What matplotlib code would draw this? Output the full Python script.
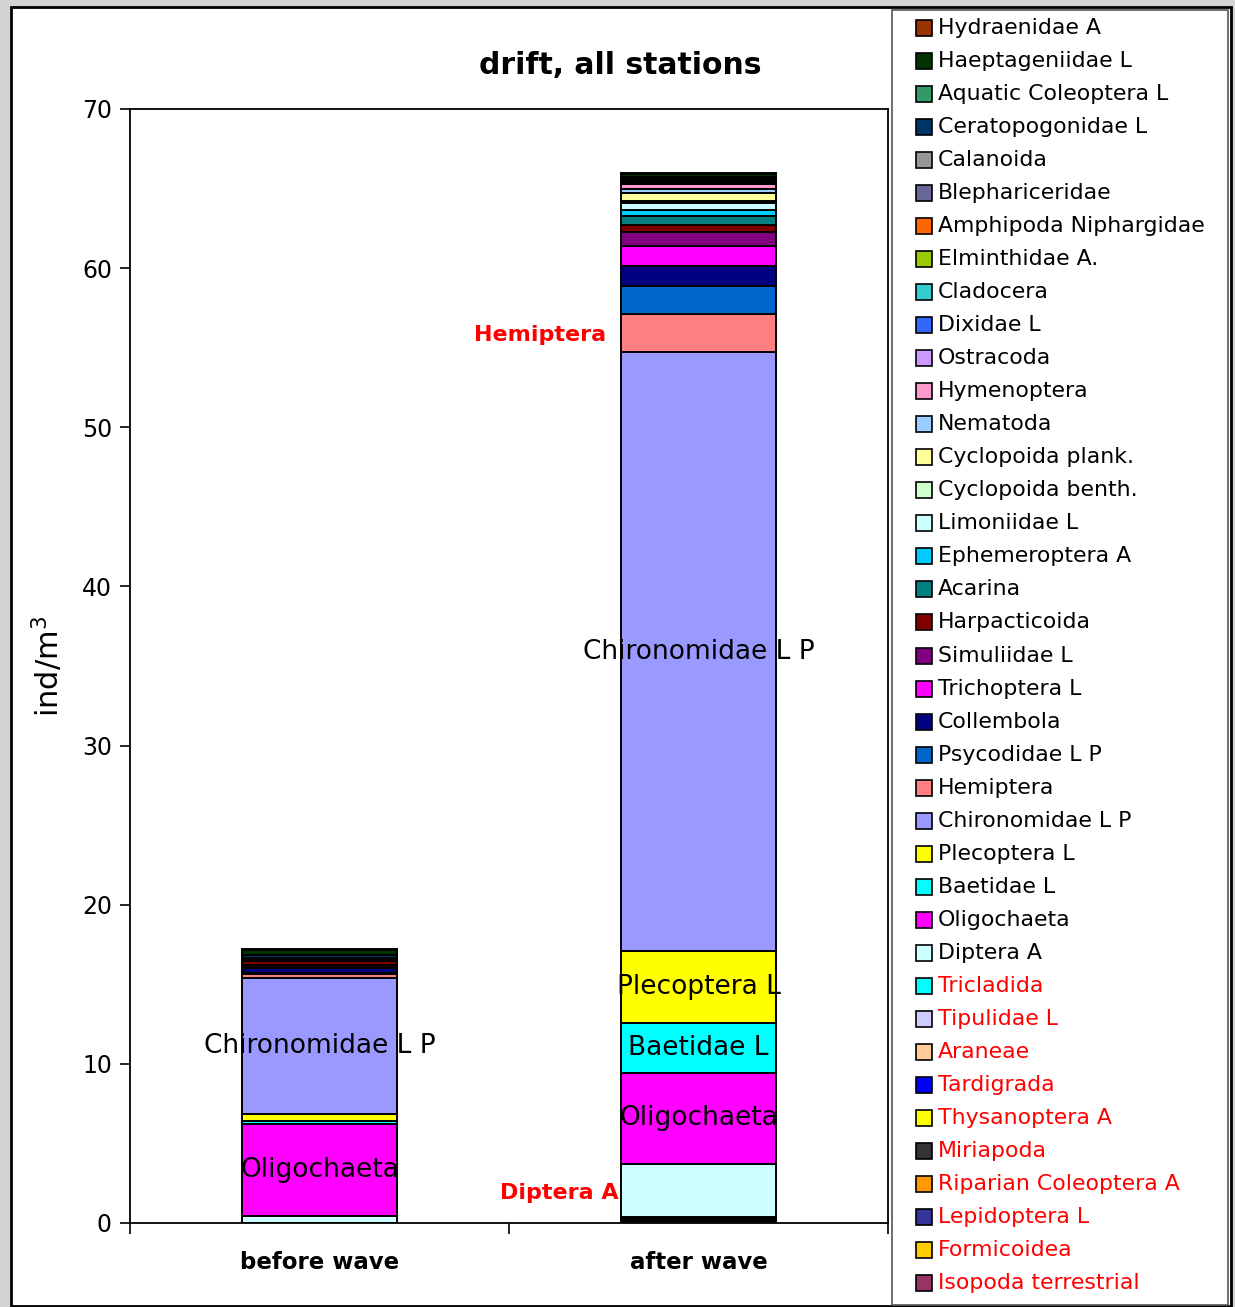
import matplotlib
matplotlib.use("Agg")
import matplotlib.pyplot as plt
from matplotlib.patches import Rectangle

plt.rcParams['font.family'] = ['DejaVu Sans']

# Sampling occasions
categories = ["before wave", "after wave"]

# Taxa in stacking order (bottom of the bar first)
taxa = [
    "Isopoda terrestrial", "Formicoidea", "Lepidoptera L", "Riparian Coleoptera A",
    "Miriapoda", "Thysanoptera A", "Tardigrada", "Araneae", "Tipulidae L",
    "Tricladida", "Diptera A", "Oligochaeta", "Baetidae L", "Plecoptera L",
    "Chironomidae L P", "Hemiptera", "Psycodidae L P", "Collembola",
    "Trichoptera L", "Simuliidae L", "Harpacticoida", "Acarina",
    "Ephemeroptera A", "Limoniidae L", "Cyclopoida benth.", "Cyclopoida plank.",
    "Nematoda", "Hymenoptera", "Ostracoda", "Dixidae L", "Cladocera",
    "Elminthidae A.", "Amphipoda Niphargidae", "Blephariceridae", "Calanoida",
    "Ceratopogonidae L", "Aquatic Coleoptera L", "Haeptageniidae L", "Hydraenidae A",
]

# Drift density, ind/m3
before_wave = [
    0, 0, 0, 0, 0, 0, 0, 0, 0, 0,
    0.45, 5.77, 0.19, 0.44, 8.54, 0.26, 0.08, 0.30, 0.08, 0.10,
    0.25, 0.02, 0.01, 0.01, 0.02, 0.02, 0.01, 0.02, 0.01, 0.01,
    0.02, 0.01, 0.01, 0.01, 0.02, 0.15, 0.02, 0.35, 0.05,
]
after_wave = [
    0.05, 0.05, 0.05, 0.05, 0.10, 0.03, 0.02, 0.02, 0.01, 0.0,
    3.33, 5.72, 3.14, 4.52, 37.64, 2.39, 1.76, 1.26, 1.25, 0.88,
    0.44, 0.57, 0.37, 0.45, 0.15, 0.47, 0.25, 0.32, 0.03, 0.02,
    0.05, 0.03, 0.03, 0.03, 0.05, 0.15, 0.05, 0.20, 0.05,
]

colors = [
    "#993366", "#FFCC00", "#333399", "#FF9900", "#333333", "#FFFF00",
    "#0000FF", "#FFCC99", "#CCCCFF", "#00FFFF", "#CCFFFF", "#FF00FF",
    "#00FFFF", "#FFFF00", "#9999FF", "#FF8080", "#0066CC", "#000080",
    "#FF00FF", "#800080", "#800000", "#008080", "#00CCFF", "#CCFFFF",
    "#CCFFCC", "#FFFF99", "#99CCFF", "#FF99CC", "#CC99FF", "#3366FF",
    "#33CCCC", "#99CC00", "#FF6600", "#666699", "#969696", "#003366",
    "#339966", "#003300", "#993300",
]

# Taxa written in red in the legend (terrestrial / rare groups)
red_taxa = taxa[:10]

# Segments that carry their name inside the bar
labelled = {0: ["Oligochaeta", "Chironomidae L P"],
            1: ["Oligochaeta", "Baetidae L", "Plecoptera L", "Chironomidae L P"]}

W, H = 1235, 1307
fig = plt.figure(figsize=(W / 100, H / 100), dpi=100)
fig.patch.set_facecolor("#d4d4d4")


def fx(px):
    return px / W


def fy(py):
    return 1 - py / H


# White chart panel with its frame
fig.patches.append(Rectangle((fx(11), fy(1306)), fx(1231) - fx(11), fy(7) - fy(1306),
                             transform=fig.transFigure, facecolor="white",
                             edgecolor="black", lw=2, zorder=-5))

ax = fig.add_axes([fx(130), fy(1223), fx(888) - fx(130), fy(109) - fy(1223)])
ax.set_facecolor("white")
ax.set_zorder(2)

xpos = [0.5, 1.5]
width = 0.41
bottoms = [0.0, 0.0]
series_vals = list(zip(before_wave, after_wave))
for name, vals, col in zip(taxa, series_vals, colors):
    ax.bar(xpos, vals, width, bottom=bottoms, color=col,
           edgecolor="black", linewidth=1.4, zorder=2)
    for i in range(2):
        if name in labelled[i]:
            ax.text(xpos[i], bottoms[i] + vals[i] / 2, name, ha="center",
                    va="center", fontsize=19, color="black", zorder=3)
    bottoms = [b + v for b, v in zip(bottoms, vals)]

# Red call-outs for the two groups of interest
hemi = taxa.index("Hemiptera")
dipt = taxa.index("Diptera A")
ax.text(1.255, sum(after_wave[:hemi]) + after_wave[hemi] * 0.45, "Hemiptera",
        ha="right", va="center", color="#FF0000", fontsize=16, fontweight="bold")
ax.text(1.29, sum(after_wave[:dipt]) + after_wave[dipt] * 0.45, "Diptera A",
        ha="right", va="center", color="#FF0000", fontsize=16, fontweight="bold")

ax.set_xlim(0, 2)
ax.set_ylim(0, 70)
ax.set_yticks(range(0, 71, 10))
ax.tick_params(axis="y", direction="out", length=7, width=1.2, labelsize=17, pad=6)
ax.set_xticks([0, 1, 2])
ax.set_xticklabels([])
ax.tick_params(axis="x", which="major", direction="out", length=8, width=1.2)
ax.set_xticks(xpos, minor=True)
ax.set_xticklabels(categories, minor=True, fontsize=16.5, fontweight="bold")
ax.tick_params(axis="x", which="minor", length=0, pad=20)
for sp in ax.spines.values():
    sp.set_linewidth(1.3)
    sp.set_color("black")

ax.set_ylabel("ind/m$^3$", fontsize=22, labelpad=12)

fig.text(fx(620), fy(66), "drift, all stations", ha="center", va="center",
         fontsize=21.5, fontweight="bold")

# Legend panel (last series listed first, as in the stacked bar)
fig.patches.append(Rectangle((fx(892), fy(1305)), fx(1228) - fx(892), fy(10) - fy(1305),
                             transform=fig.transFigure, facecolor="white",
                             edgecolor="#555555", lw=1.2, zorder=1))
row0, step = 28, (1283 - 28) / (len(taxa) - 1)
for k, idx in enumerate(range(len(taxa) - 1, -1, -1)):
    yc = row0 + k * step
    fig.patches.append(Rectangle((fx(916), fy(yc + 8)), fx(932) - fx(916), fy(yc - 8) - fy(yc + 8),
                                 transform=fig.transFigure, facecolor=colors[idx],
                                 edgecolor="black", lw=1.2, zorder=2))
    fig.text(fx(938), fy(yc), taxa[idx], ha="left", va="center", fontsize=15.8,
             color="#FF0000" if taxa[idx] in red_taxa else "black", zorder=3)

fig.savefig("out.png", dpi=100, facecolor=fig.get_facecolor())
